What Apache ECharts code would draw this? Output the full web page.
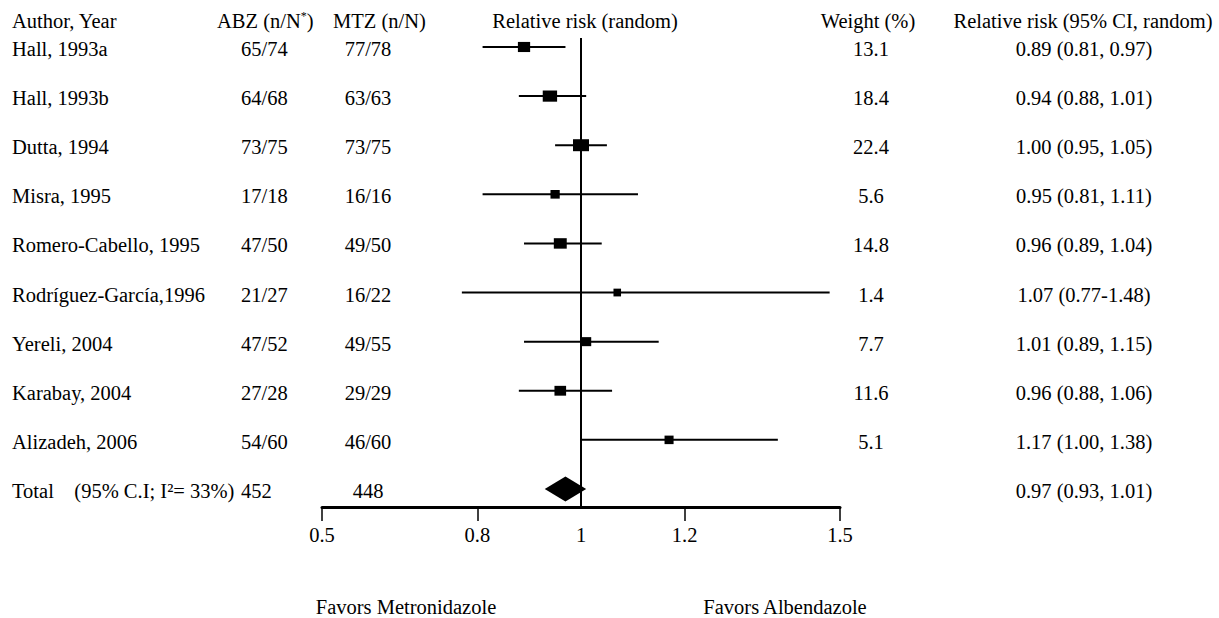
<!DOCTYPE html>
<html><head><meta charset="utf-8">
<script src="https://cdn.jsdelivr.net/npm/echarts@6/dist/echarts.min.js"></script>
<style>html,body{margin:0;padding:0;background:#fff}#c{width:1219px;height:618px}</style>
</head><body><div id="c"></div>
<script>
// ---- data ----
const studies = ['Hall, 1993a', 'Hall, 1993b', 'Dutta, 1994', 'Misra, 1995', 'Romero-Cabello, 1995',
  'Rodríguez-García,1996', 'Yereli, 2004', 'Karabay, 2004', 'Alizadeh, 2006'];
const abz = ['65/74', '64/68', '73/75', '17/18', '47/50', '21/27', '47/52', '27/28', '54/60'];
const mtz = ['77/78', '63/63', '73/75', '16/16', '49/50', '16/22', '49/55', '29/29', '46/60'];
const rr = [0.89, 0.94, 1.00, 0.95, 0.96, 1.07, 1.01, 0.96, 1.17];
const ciLow = [0.81, 0.88, 0.95, 0.81, 0.89, 0.77, 0.89, 0.88, 1.00];
const ciHigh = [0.97, 1.01, 1.05, 1.11, 1.04, 1.48, 1.15, 1.06, 1.38];
const ciSep = [', ', ', ', ', ', ', ', ', ', '-', ', ', ', ', ', '];
const weight = [13.1, 18.4, 22.4, 5.6, 14.8, 1.4, 7.7, 11.6, 5.1];
const totalAbz = 452;
const totalMtz = 448;
const totalRR = 0.97;
const totalLow = 0.93;
const totalHigh = 1.01;
const totalI2 = 33;
const xTickLabels = [0.5, 0.8, 1, 1.2, 1.5];
const xTickMarks = [0.5, 0.8, 1.2, 1.5];

// ---- chart ----
const FONT = 'Liberation Serif';
const FS = 20.5;
const nRows = studies.length + 1;
const rowIdx = Array.from({length: nRows}, (_, i) => i);
const fmt = v => v.toFixed(2);
const ciText = (e, l, h, s) => `${fmt(e)} (${fmt(l)}${s}${fmt(h)})`;

const base = {fontFamily: FONT, fontSize: FS, color: '#000'};

function leftLabel(v) {
  const i = Math.round(v);
  if (i < studies.length) return `{a|${studies[i]}}{b|${abz[i]}}{c|${mtz[i]}}`;
  return `{a|Total\u00a0\u00a0\u00a0 (95% C.I; I²= ${totalI2}%)}{b|${totalAbz}}{c|${totalMtz}}`;
}
function rightLabel(v) {
  const i = Math.round(v);
  if (i < studies.length) return `{w|${weight[i].toFixed(1)}}{s| }{r|${ciText(rr[i], ciLow[i], ciHigh[i], ciSep[i])}}`;
  return `{w| }{s| }{r|${ciText(totalRR, totalLow, totalHigh, ', ')}}`;
}

const ciData = studies.map((s, i) => [ciLow[i], ciHigh[i], i]);
const pointData = studies.map((s, i) => [rr[i], i, weight[i]]);

const yCommon = {
  type: 'value', inverse: true, min: -0.183, max: 9.367,
  axisLine: {show: false}, axisTick: {show: false}, splitLine: {show: false}
};

const chart = echarts.init(document.getElementById('c'), null, {renderer: 'svg'});
chart.setOption({
  animation: false,
  backgroundColor: '#fff',
  textStyle: {fontFamily: FONT},
  grid: {left: 322, right: 379, top: 38, bottom: 111, containLabel: false, outerBoundsMode: 'none'},
  xAxis: {
    type: 'value', min: 0.5, max: 1.5,
    axisLine: {show: true, onZero: false, lineStyle: {color: '#000', width: 3}},
    axisTick: {show: true, customValues: xTickMarks, length: 14, lineStyle: {color: '#000', width: 1.5}},
    axisLabel: {customValues: xTickLabels, margin: 17, ...base, formatter: v => String(v)},
    splitLine: {show: false}
  },
  yAxis: [
    Object.assign({}, yCommon, {
      position: 'left',
      axisLabel: {
        customValues: rowIdx, align: 'left', margin: 310, padding: [4, 0, 0, 0], ...base,
        formatter: leftLabel,
        rich: {
          a: Object.assign({width: 229, align: 'left'}, base),
          b: Object.assign({width: 100, align: 'left'}, base),
          c: Object.assign({width: 54, align: 'center'}, base)
        }
      }
    }),
    Object.assign({}, yCommon, {
      position: 'right',
      axisLabel: {
        customValues: rowIdx, align: 'left', margin: 6, padding: [4, 0, 0, 0], ...base,
        formatter: rightLabel,
        rich: {
          w: Object.assign({width: 50, align: 'center'}, base),
          s: Object.assign({width: 68, align: 'center'}, base),
          r: Object.assign({width: 240, align: 'center'}, base)
        }
      }
    })
  ],
  series: [
    {
      type: 'custom', z: 2,
      encode: {x: [0, 1], y: 2},
      data: ciData,
      renderItem: (params, api) => {
        const p1 = api.coord([api.value(0), api.value(2)]);
        const p2 = api.coord([api.value(1), api.value(2)]);
        return {type: 'line', shape: {x1: p1[0], y1: p1[1], x2: p2[0], y2: p2[1]},
          style: {stroke: '#000', lineWidth: 2}};
      }
    },
    {
      type: 'scatter', z: 3, symbol: 'rect',
      symbolSize: v => [7 + 0.4 * v[2], 7.5 + 0.2 * v[2]],
      itemStyle: {color: '#000', opacity: 1},
      data: pointData,
      markLine: {
        silent: true, symbol: 'none', label: {show: false},
        lineStyle: {color: '#000', width: 2, type: 'solid', opacity: 1},
        data: [{xAxis: 1}]
      }
    },
    {
      type: 'custom', z: 3,
      encode: {x: [0, 1, 2], y: 3},
      data: [[totalLow, totalRR, totalHigh, studies.length]],
      renderItem: (params, api) => {
        const y = api.value(3);
        const l = api.coord([api.value(0), y]);
        const c = api.coord([api.value(1), y]);
        const r = api.coord([api.value(2), y]);
        const h = 12.5;
        return {type: 'polygon', shape: {points: [l, [c[0], c[1] - h], r, [c[0], c[1] + h]]},
          style: {fill: '#000'}};
      }
    }
  ],
  graphic: [
    {type: 'text', left: 12, top: 10, style: {text: 'Author, Year', font: `${FS}px "${FONT}"`, fill: '#000'}},
    {type: 'text', left: 217, top: 10, style: {text: 'ABZ (n/N{sup|*})', font: `${FS}px "${FONT}"`, fill: '#000',
      rich: {sup: {fontSize: 12, fontFamily: FONT, fill: '#000', verticalAlign: 'top'}}}},
    {type: 'text', left: 333, top: 10, style: {text: 'MTZ (n/N)', font: `${FS}px "${FONT}"`, fill: '#000'}},
    {type: 'text', x: 585, y: 21, style: {text: 'Relative risk (random)', font: `${FS}px "${FONT}"`, fill: '#000', align: 'center', verticalAlign: 'middle'}},
    {type: 'text', x: 868, y: 21, style: {text: 'Weight (%)', font: `${FS}px "${FONT}"`, fill: '#000', align: 'center', verticalAlign: 'middle'}},
    {type: 'text', x: 1083, y: 21, style: {text: 'Relative risk (95% CI, random)', font: `${FS}px "${FONT}"`, fill: '#000', align: 'center', verticalAlign: 'middle'}},
    {type: 'text', x: 406, y: 607, style: {text: 'Favors Metronidazole', font: `${FS}px "${FONT}"`, fill: '#000', align: 'center', verticalAlign: 'middle'}},
    {type: 'text', x: 785, y: 607, style: {text: 'Favors Albendazole', font: `${FS}px "${FONT}"`, fill: '#000', align: 'center', verticalAlign: 'middle'}}
  ]
});
</script>
</body></html>
